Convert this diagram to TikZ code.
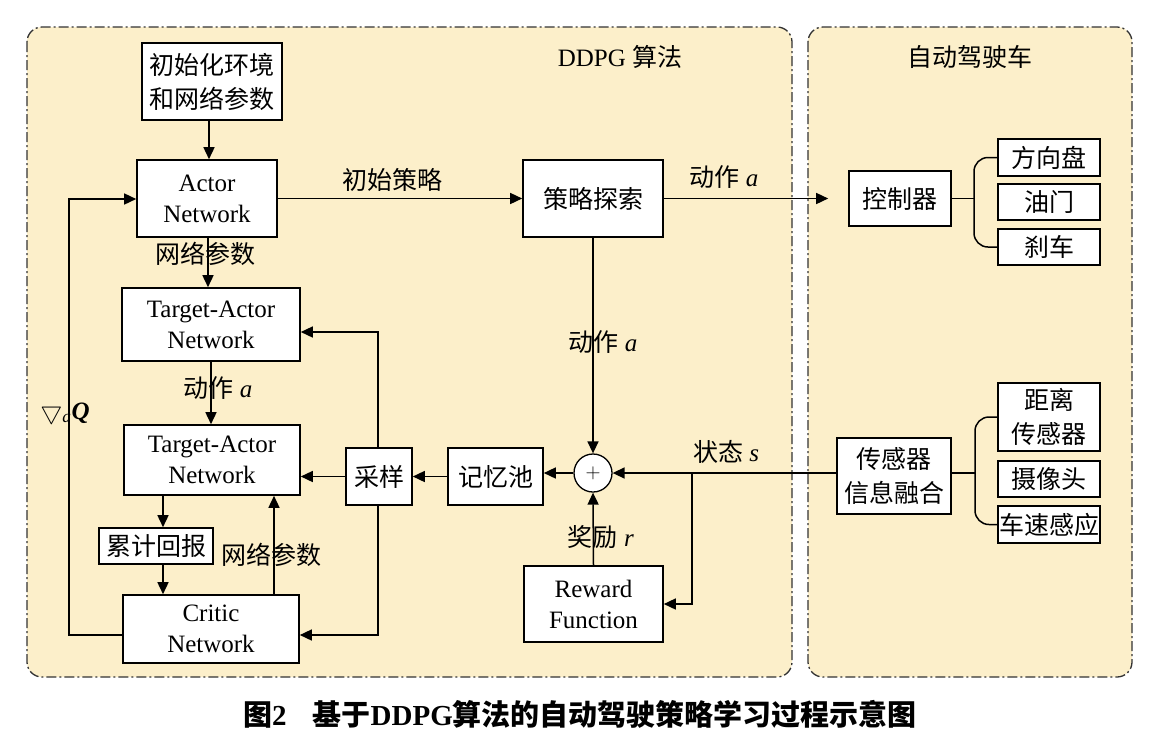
\documentclass[tikz,border=0pt]{standalone}
\usepackage{fontspec}
\setmainfont{Liberation Serif}
\newfontfamily\cjk{Noto Sans CJK SC}
\usetikzlibrary{arrows.meta,calc}
\definecolor{panelc}{RGB}{252,239,202}
\newcommand\fsz{\fontsize{25}{31}\selectfont}
\newcommand\fszc{\fontsize{25}{34}\selectfont}
\tikzset{
  box/.style={draw, line width=1.6pt, fill=white, inner sep=0pt, align=center, font=\fsz},
  cbox/.style={box, font=\fszc},
  arr/.style={line width=1.5pt, -{Triangle[length=12pt,width=11pt]}},
  ln/.style={line width=1.5pt},
  lbl/.style={inner sep=0pt, font=\fsz},
  panel/.style={draw=black!80, line width=1.3pt, fill=panelc, rounded corners=15pt,
    dash pattern=on 10pt off 3pt on 2pt off 3pt},
}
\begin{document}
\begin{tikzpicture}[x=1pt,y=-1pt]
\useasboundingbox (0,0) rectangle (1152,732);
\fill[white] (0,0) rectangle (1152,732);
% panels
\draw[panel] (27,27) rectangle (792,677);
\draw[panel] (808,27) rectangle (1132,677);
\node[lbl] (ttl1) at (620,57) {DDPG {\cjk 算法}};
\node[lbl] (ttl2) at (970,57) {\cjk 自动驾驶车};

% nodes
\node[cbox, minimum width=140pt, minimum height=77pt] (init) at (212,81.5) {\cjk 初始化环境\\\cjk 和网络参数};
\node[box, minimum width=140pt, minimum height=77pt] (actor) at (207,198.5) {Actor\\Network};
\node[box, minimum width=178pt, minimum height=73pt] (tgt1) at (211,324.5) {Target-Actor\\Network};
\node[box, minimum width=176pt, minimum height=70pt] (tgt2) at (212,460) {Target-Actor\\Network};
\node[box, minimum width=114pt, minimum height=36pt] (cum) at (156,546) {\cjk 累计回报};
\node[box, minimum width=176pt, minimum height=68pt] (critic) at (211,629) {Critic\\Network};
\node[box, minimum width=66pt, minimum height=57pt] (sample) at (379,476.5) {\cjk 采样};
\node[box, minimum width=95pt, minimum height=57pt] (mem) at (495.5,476.5) {\cjk 记忆池};
\node[draw, circle, line width=1.3pt, fill=white, minimum size=38pt, inner sep=0pt] (plus) at (593,473) {\fontsize{22}{22}\selectfont$+$};
\node[box, minimum width=139pt, minimum height=76pt] (reward) at (593.5,604) {Reward\\Function};
\node[box, minimum width=140pt, minimum height=77pt] (explore) at (593,198.5) {\cjk 策略探索};
\node[box, minimum width=102pt, minimum height=55pt] (ctrl) at (900,198.5) {\cjk 控制器};
\node[box, minimum width=102pt, minimum height=37pt] (wheel) at (1049,157.5) {\cjk 方向盘};
\node[box, minimum width=102pt, minimum height=36pt] (throttle) at (1049,202) {\cjk 油门};
\node[box, minimum width=102pt, minimum height=36pt] (brake) at (1049,247) {\cjk 刹车};
\node[cbox, minimum width=114pt, minimum height=76pt] (fusion) at (894,476) {\cjk 传感器\\\cjk 信息融合};
\node[cbox, minimum width=102pt, minimum height=68pt] (dist) at (1049,417) {\cjk 距离\\\cjk 传感器};
\node[box, minimum width=102pt, minimum height=36pt] (cam) at (1049,479) {\cjk 摄像头};
\node[box, minimum width=102pt, minimum height=37pt] (speed) at (1049,524.5) {\cjk 车速感应};

% coordinates
\coordinate (s1) at (378,332);
\coordinate (s2) at (378,635);
\coordinate (q1) at (69,635);
\coordinate (q2) at (69,199);
\coordinate (sb) at (692,473);
\coordinate (cj) at (974,198.5);
\coordinate (fj) at (975,473);

% connectors
\draw[arr] ([xshift=-3pt]init.south) -- ([xshift=-3pt]init.south |- actor.north);
\draw[arr] ([xshift=1pt]actor.south) -- ([xshift=1pt]actor.south |- tgt1.north);
\draw[arr] (tgt1.south) -- (tgt1.south |- tgt2.north);
\draw[arr] ([xshift=7pt]cum.north |- tgt2.south) -- ([xshift=7pt]cum.north);
\draw[arr] ([xshift=7pt]cum.south) -- ([xshift=7pt]cum.south |- critic.north);
\draw[arr] ([xshift=63pt]critic.north) -- ([xshift=63pt]critic.north |- tgt2.south);
\draw[arr] (sample.west) -- (sample.west -| tgt2.east);
\draw[arr] (sample.north -| s1) -- (s1) -- (s1 -| tgt1.east);
\draw[arr] (sample.south -| s2) -- (s2) -- (s2 -| critic.east);
\draw[arr] (critic.west |- q1) -- (q1) -- (q2) -- (q2 -| actor.west);
\draw[arr] (actor.east) -- (explore.west);
\draw[arr, shorten >=20pt] (explore.east) -- (ctrl.west);
\draw[arr] (explore.south) -- (plus.north);
\draw[arr] (reward.north) -- (plus.south);
\draw[arr] (fusion.west |- plus) -- (plus.east);
\draw[arr] (plus.west) -- (plus.west -| mem.east);
\draw[arr] (mem.west) -- (sample.east);
\draw[arr] (sb) |- (reward.east);
% brackets
\draw[ln] (ctrl.east) -- (cj);
\draw[ln, rounded corners=14pt] (wheel.west) -| (cj) |- (brake.west);
\draw[ln] (fusion.west |- fj) ++(114pt,0) -- (fj);
\draw[ln, rounded corners=14pt] (dist.west) -| (fj) |- (speed.west);

% labels
\node[lbl] (l1) at (392,180) {\cjk 初始策略};
\node[lbl] (l2) at (205,254) {\cjk 网络参数};
\node[lbl] (l3) at (218,388) {{\cjk 动作} \textit{a}};
\node[lbl] (l4) at (65,413) {$\bigtriangledown$\textsubscript{\textit{a}}\textbf{\textit{Q}}};
\node[lbl] (l5) at (271,555) {\cjk 网络参数};
\node[lbl] (l6) at (724,177) {{\cjk 动作} \textit{a}};
\node[lbl] (l7) at (603,342) {{\cjk 动作} \textit{a}};
\node[lbl] (l8) at (726,452) {{\cjk 状态} \textit{s}};
\node[lbl] (l9) at (601,537) {{\cjk 奖励} \textit{r}};

% caption
\node[inner sep=0pt, font=\fontsize{29}{32}\selectfont\bfseries] (cap) at (580,714)
  {{\cjk 图}2\hspace{0.9em}{\cjk 基于}DDPG{\cjk 算法的自动驾驶策略学习过程示意图}};
\end{tikzpicture}
\end{document}
